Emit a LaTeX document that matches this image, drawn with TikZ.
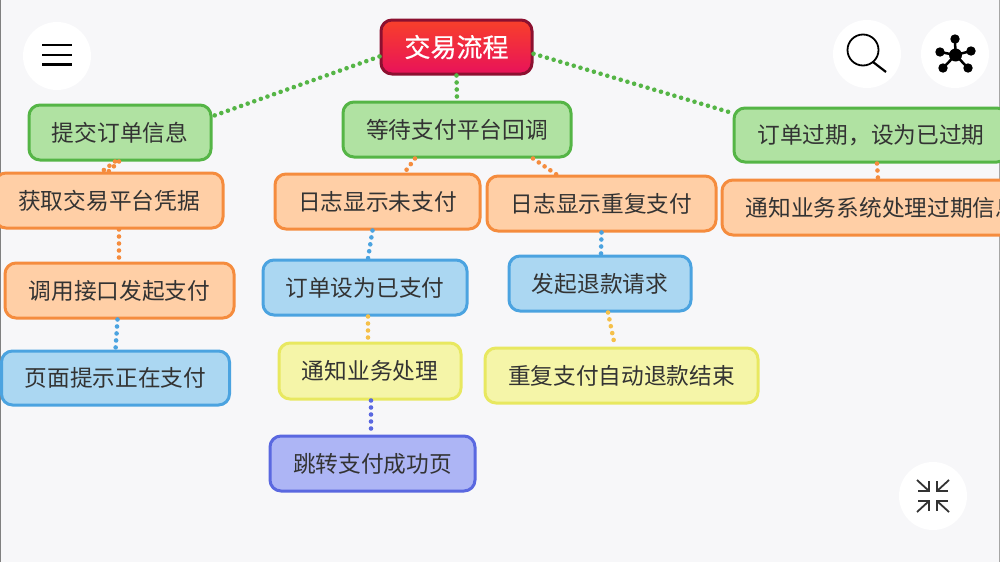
\documentclass[tikz,border=0pt]{standalone}
\usepackage{fontspec}
\setmainfont{Noto Sans CJK SC}
\newfontfamily\rootfont[FakeBold=0.5]{Noto Sans CJK SC}
\usepackage{xcolor}
\definecolor{pagebg}{HTML}{F7F7F9}
\definecolor{inkc}{HTML}{333333}
\definecolor{greenfill}{HTML}{B0E2A2}
\definecolor{greenline}{HTML}{55B546}
\definecolor{orangefill}{HTML}{FFCFA6}
\definecolor{orangeline}{HTML}{F58C3E}
\definecolor{bluefill}{HTML}{ABD7F2}
\definecolor{blueline}{HTML}{4BA3E0}
\definecolor{yellowfill}{HTML}{F5F5A8}
\definecolor{yellowline}{HTML}{E8E860}
\definecolor{indigofill}{HTML}{ADB5F5}
\definecolor{indigoline}{HTML}{5A68E0}
\definecolor{amberline}{HTML}{F5C04A}
\definecolor{rootline}{HTML}{8C1030}
\definecolor{roottop}{HTML}{F8402A}
\definecolor{rootbottom}{HTML}{E8125A}
\tikzset{
  mapbox/.style={rounded corners=11pt, line width=3pt, inner sep=0pt, text=inkc, font=\fontsize{22.7pt}{26pt}\selectfont},
  greenbox/.style={mapbox, draw=greenline, fill=greenfill},
  orangebox/.style={mapbox, draw=orangeline, fill=orangefill},
  bluebox/.style={mapbox, draw=blueline, fill=bluefill},
  yellowbox/.style={mapbox, draw=yellowline, fill=yellowfill},
  indigobox/.style={mapbox, draw=indigoline, fill=indigofill},
  dotlink/.style={line width=4.6pt, line cap=round, dash pattern=on 0pt off 7pt},
  roundbtn/.style={circle, fill=white, minimum size=68pt, inner sep=0pt},
}
\begin{document}
\begin{tikzpicture}[x=1pt, y=-1pt]
\useasboundingbox (0,0) rectangle (1000,562);
\clip (0,0) rectangle (1000,562);
\fill[pagebg] (0,0) rectangle (1000,562);
\draw[gray, line width=1.5pt] (0,0) -- (0,562);
\draw[gray!70, line width=1.5pt] (999.5,0) -- (999.5,562);
% buttons
\node[roundbtn] (menubtn) at (57,56) {};
\node[roundbtn] (searchbtn) at (867,54) {};
\node[roundbtn] (graphbtn) at (955,54) {};
\node[roundbtn] (foldbtn) at (933,496) {};
% root
\node[mapbox, draw=rootline, top color=roottop, bottom color=rootbottom, text=white, font=\fontsize{26pt}{30pt}\rootfont, minimum width=151pt, minimum height=54pt] (root) at (456.5,47) {交易流程};
% first level
\node[greenbox, minimum width=182pt, minimum height=55pt] (submit) at (120,132.5) {提交订单信息};
\node[greenbox, minimum width=228pt, minimum height=55pt] (waitcb) at (457,129.5) {等待支付平台回调};
\node[greenbox, minimum width=274pt, minimum height=54pt] (expire) at (871,135) {订单过期^^^^ff0c设为已过期};
% left branch
\node[orangebox, minimum width=228pt, minimum height=55pt] (cred) at (109,200.5) {获取交易平台凭据};
\node[orangebox, minimum width=229pt, minimum height=55pt] (callapi) at (119.5,290.5) {调用接口发起支付};
\node[bluebox, minimum width=228pt, minimum height=54pt] (paging) at (115.5,378) {页面提示正在支付};
% middle branch
\node[orangebox, minimum width=205pt, minimum height=55pt] (lognp) at (377.5,201.5) {日志显示未支付};
\node[bluebox, minimum width=204pt, minimum height=55pt] (setpaid) at (365,287.5) {订单设为已支付};
\node[yellowbox, minimum width=182pt, minimum height=56pt] (notify) at (370,371) {通知业务处理};
\node[indigobox, minimum width=205pt, minimum height=55pt] (jump) at (372.5,463.5) {跳转支付成功页};
% duplicate payment
\node[orangebox, minimum width=229pt, minimum height=55pt] (logdup) at (601.5,203.5) {日志显示重复支付};
\node[bluebox, minimum width=182pt, minimum height=55pt] (refund) at (600,283.5) {发起退款请求};
\node[yellowbox, minimum width=273pt, minimum height=55pt] (autoref) at (621.5,375.5) {重复支付自动退款结束};
% expired
\node[orangebox, minimum width=320pt, minimum height=55pt] (notifyexp) at (882,207.5) {通知业务系统处理过期信息};
% links
\draw[dotlink, greenline] (root.187) -- (submit.10);
\draw[dotlink, greenline] (root.south) -- (waitcb.north);
\draw[dotlink, greenline] (root.-5) -- (expire.171);
\draw[dotlink, orangeline] ([xshift=-1pt]submit.south) -- ([xshift=-0.5pt]cred.north);
\draw[dotlink, orangeline] ([xshift=-5pt]submit.south) -- ([xshift=-7pt]cred.north);
\draw[dotlink, orangeline] ([xshift=10pt]cred.south) -- ([xshift=-0.5pt]callapi.north);
\draw[dotlink, blueline] ([xshift=-2pt]callapi.south) -- ([xshift=0pt]paging.north);
\draw[dotlink, orangeline] ([xshift=-42pt]waitcb.south) -- ([xshift=27pt]lognp.north);
\draw[dotlink, orangeline] ([xshift=76pt]waitcb.south) -- ([xshift=-45pt]logdup.north);
\draw[dotlink, blueline] ([xshift=-5pt]lognp.south) -- ([xshift=3pt]setpaid.north);
\draw[dotlink, amberline] ([xshift=3pt]setpaid.south) -- ([xshift=-2pt]notify.north);
\draw[dotlink, indigoline] ([xshift=1pt]notify.south) -- ([xshift=-1.5pt]jump.north);
\draw[dotlink, blueline] (logdup.south) -- ([xshift=1pt]refund.north);
\draw[dotlink, amberline] ([xshift=8pt]refund.south) -- ([xshift=-6.5pt]autoref.north);
\draw[dotlink, orangeline] ([xshift=6pt]expire.south) -- ([xshift=-4pt]notifyexp.north);
% menu icon
\foreach \y in {45,55,64.5}
  \draw[black, line width=2.5pt] (42,\y) -- (71.5,\y);
% search icon
\draw[black, line width=1.8pt] (863,50) circle (15.5);
\draw[black, line width=2.2pt] (873,62) -- (886,72);
% graph icon
\foreach \x/\y in {955/39, 940/52, 971/51, 943/68, 968/68} {
  \draw[black, line width=2.5pt] (955.5,55) -- (\x,\y);
  \fill[black] (\x,\y) circle (4.7);
}
\fill[black] (955.5,55) circle (6.5);
% fold icon
\foreach \sx/\sy in {-1/-1, 1/-1, -1/1, 1/1} {
  \begin{scope}[shift={(933,496)}, xscale=\sx, yscale=\sy]
  \draw[inkc, line width=1.8pt] (16,16) -- (4,5);
  \draw[inkc, line width=1.8pt] (15,5) -- (4,5) -- (4,15);
  \end{scope}
}
\end{tikzpicture}
\end{document}
